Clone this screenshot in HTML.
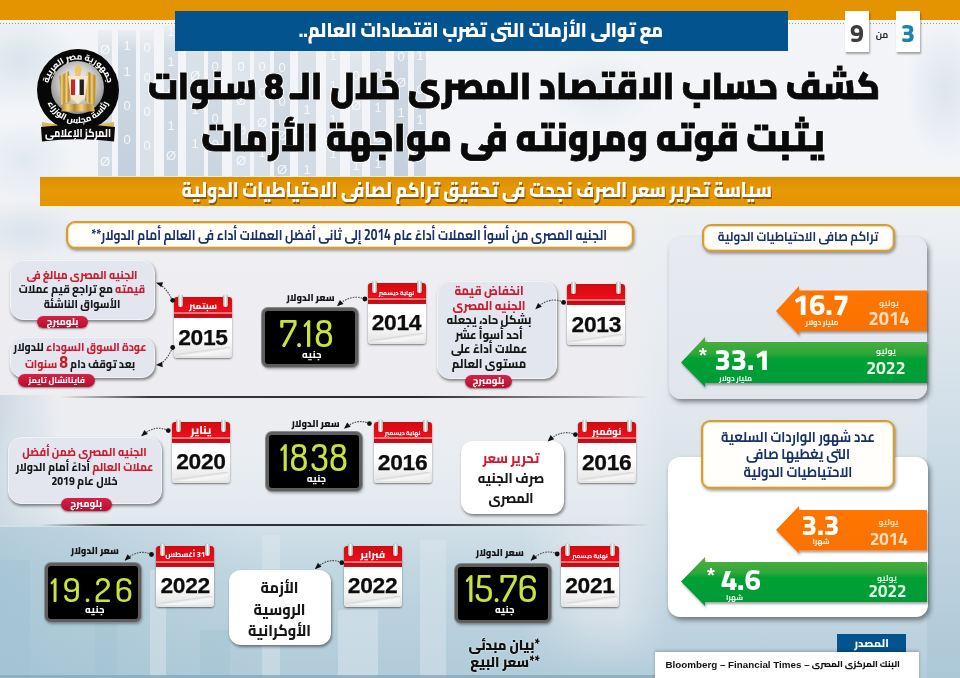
<!DOCTYPE html>
<html lang="ar">
<head>
<meta charset="utf-8">
<title>infographic</title>
<style>
*{box-sizing:border-box;margin:0;padding:0}
html,body{width:960px;height:678px;overflow:hidden}
body{position:relative;font-family:"Liberation Sans","Cairo","DejaVu Sans",sans-serif;background:#eceff3;color:#111}
.a{position:absolute}
.ar{font-family:"Cairo","DejaVu Sans",sans-serif;direction:rtl;white-space:nowrap}
.red{color:#cc1b2e}
.bub{background:#e3e6ef;border:1px solid #f1f3f8;border-radius:13px;box-shadow:1px 2px 3px rgba(0,0,0,.45)}
.wbub{background:#fff;border-radius:12px;box-shadow:1px 2px 3px rgba(0,0,0,.45)}
.pill{background:linear-gradient(180deg,#d42245,#b90f30);border-radius:7px;box-shadow:0 1px 2px rgba(0,0,0,.45)}
.hdr{background:#fffefa;border:2.5px solid #d69c35;border-radius:9px;box-shadow:0 0 0 1px #f3dfb0 inset,1px 2px 3px rgba(0,0,0,.35)}
.cal{width:58px;height:61px}
.cal .pg{left:0;top:0;width:58px;height:61px;background:linear-gradient(180deg,#fff 0,#fff 62%,#f1f1f1 80%,#e2e2e2 100%);border-radius:3px;box-shadow:0 1px 2px rgba(0,0,0,.5)}
.cal .curl{left:2px;top:50px;width:54px;height:9px;background:linear-gradient(172deg,rgba(255,255,255,0) 40%,#d9d9d9 45%,#f7f7f7 60%,#e8e8e8 100%)}
.cal .hd{left:0;top:0;width:58px;height:21px;background:linear-gradient(180deg,#b80f12 0,#d80a10 6%,#e20c14 40%,#ef0e1e 66%,#c8141c 71%,#f27575 74%,#f27575 79%,#b80e18 82%,#cd0f1f 100%);border-radius:3px 3px 0 0}
.cal .rg{top:-2px;width:5px;height:12px;background:linear-gradient(90deg,#9ea9a3,#f4f6f4 50%,#9ea9a3);border-radius:2px;box-shadow:0 0 1px rgba(0,0,0,.4)}
.led{width:96px;height:59px;background:#000;border:3px solid #5e5e5e;border-radius:6px;box-shadow:0 0 0 1px #8a8a8a,1px 2px 3px rgba(0,0,0,.35)}
.dg{font-family:"Dosis","Liberation Sans Narrow","Liberation Sans",sans-serif;font-weight:500;color:#c7e43b;white-space:nowrap;text-align:center}
.num{font-family:"Cairo","DejaVu Sans",sans-serif;font-weight:800;white-space:nowrap;text-align:center}
</style>
</head>
<body>
<div class="a" style="left:0;top:0;width:960px;height:678px;background:linear-gradient(180deg,#f3f5f8 0,#f2f4f7 170px,#eff0f3 215px,#eeeef2 300px,#ededf1 395px,#e9edf1 460px,#e2e9ef 515px,#d7e0e7 545px,#cfdbe4 620px,#c3d3df 678px)"></div>
<svg class="a" style="left:0;top:0" width="960" height="678" viewBox="0 0 960 678">
<defs>
<linearGradient id="rs" x1="0" y1="0" x2="0" y2="1"><stop offset="0" stop-color="#eef2f6" stop-opacity="0"/><stop offset=".12" stop-color="#e3e9ef"/><stop offset=".45" stop-color="#cbdbe6"/><stop offset="1" stop-color="#a9c5d4"/></linearGradient>
<radialGradient id="tr" cx="50%" cy="50%" r="50%"><stop offset="0" stop-color="#dde5ee"/><stop offset="1" stop-color="#dde5ee" stop-opacity="0"/></radialGradient>
<linearGradient id="colg" x1="0" y1="0" x2="0" y2="1"><stop offset="0" stop-color="#cfd9e3" stop-opacity=".3"/><stop offset=".15" stop-color="#cfd9e3"/><stop offset=".6" stop-color="#c9d4df"/><stop offset="1" stop-color="#c3cfdb"/></linearGradient>
<linearGradient id="botL" x1="0" y1="0" x2="0" y2="1"><stop offset="0" stop-color="#d2e0e9"/><stop offset=".3" stop-color="#c1d6e1"/><stop offset="1" stop-color="#b0cbd9"/></linearGradient>
<linearGradient id="botLx" x1="0" y1="0" x2="1" y2="0"><stop offset="0" stop-color="#9cbfd0" stop-opacity=".55"/><stop offset=".45" stop-color="#9cbfd0" stop-opacity="0"/></linearGradient>
<linearGradient id="botRx" x1="0" y1="0" x2="1" y2="0"><stop offset="0" stop-color="#dfe6ec" stop-opacity="0"/><stop offset=".45" stop-color="#dfe6ec" stop-opacity=".9"/><stop offset="1" stop-color="#e2e8ed" stop-opacity=".95"/></linearGradient>
<linearGradient id="botRy" x1="0" y1="0" x2="0" y2="1"><stop offset="0" stop-color="#fff" stop-opacity="1"/><stop offset=".6" stop-color="#fff" stop-opacity=".8"/><stop offset="1" stop-color="#fff" stop-opacity="0"/></linearGradient>
<mask id="mRy"><rect x="0" y="525" width="960" height="153" fill="url(#botRy)"/></mask>
<linearGradient id="botR" x1="0" y1="0" x2="0" y2="1"><stop offset="0" stop-color="#e4e8ec"/><stop offset=".55" stop-color="#dbe2e8"/><stop offset="1" stop-color="#bfd0dc"/></linearGradient>
<linearGradient id="fadeX" x1="0" y1="0" x2="1" y2="0"><stop offset="0" stop-color="#fff" stop-opacity="0"/><stop offset="1" stop-color="#fff" stop-opacity="1"/></linearGradient>
<linearGradient id="leftB" x1="0" y1="0" x2="1" y2="0"><stop offset="0" stop-color="#c7d5e0"/><stop offset="1" stop-color="#c7d5e0" stop-opacity="0"/></linearGradient>
</defs>
<g fill="url(#colg)"><rect x="98" y="30" width="14" height="148" opacity="0.7"/><rect x="118" y="30" width="18" height="148" opacity="1.0"/><rect x="140" y="30" width="14" height="148" opacity="0.55"/><rect x="164" y="26" width="14" height="152" opacity="0.85"/><rect x="186" y="30" width="18" height="148" opacity="0.7"/><rect x="208" y="30" width="14" height="148" opacity="0.85"/><rect x="232" y="26" width="18" height="152" opacity="0.55"/><rect x="254" y="26" width="16" height="152" opacity="0.55"/><rect x="274" y="30" width="16" height="148" opacity="0.85"/><rect x="298" y="30" width="18" height="148" opacity="0.7"/><rect x="326" y="40" width="14" height="138" opacity="0.55"/><rect x="350" y="40" width="12" height="138" opacity="0.55"/><rect x="370" y="30" width="16" height="148" opacity="0.85"/><rect x="394" y="40" width="14" height="138" opacity="1.0"/><rect x="414" y="40" width="12" height="138" opacity="0.85"/></g>
<g fill="#ffffff" opacity=".8" font-family="Liberation Sans,sans-serif" font-size="13" text-anchor="middle"><text x="105" y="54">Ø</text><text x="105" y="84">Ø</text><text x="105" y="110">Ø</text><text x="105" y="136">0</text><text x="105" y="166">Ø</text><text x="127" y="50">1</text><text x="127" y="76">1</text><text x="127" y="110">0</text><text x="127" y="144">0</text><text x="147" y="52">0</text><text x="147" y="82">0</text><text x="147" y="116">0</text><text x="147" y="150">0</text><text x="171" y="36">1</text><text x="171" y="66">1</text><text x="171" y="96">0</text><text x="171" y="130">1</text><text x="171" y="160">Ø</text><text x="195" y="50">0</text><text x="195" y="80">Ø</text><text x="195" y="114">1</text><text x="195" y="148">1</text><text x="215" y="41">0</text><text x="215" y="71">0</text><text x="215" y="97">1</text><text x="215" y="123">0</text><text x="215" y="149">0</text><text x="241" y="45">Ø</text><text x="241" y="71">0</text><text x="241" y="105">Ø</text><text x="241" y="135">Ø</text><text x="241" y="165">Ø</text><text x="262" y="37">Ø</text><text x="262" y="71">0</text><text x="262" y="97">0</text><text x="262" y="127">Ø</text><text x="262" y="157">1</text><text x="282" y="42">0</text><text x="282" y="72">0</text><text x="282" y="106">0</text><text x="282" y="140">Ø</text><text x="282" y="174">Ø</text><text x="307" y="46">1</text><text x="307" y="80">1</text><text x="307" y="114">1</text><text x="307" y="140">0</text><text x="307" y="174">1</text><text x="333" y="60">1</text><text x="333" y="90">1</text><text x="333" y="124">1</text><text x="333" y="158">1</text><text x="356" y="50">1</text><text x="356" y="80">0</text><text x="356" y="110">Ø</text><text x="356" y="144">1</text><text x="356" y="170">1</text><text x="378" y="52">0</text><text x="378" y="78">0</text><text x="378" y="112">1</text><text x="378" y="142">Ø</text><text x="378" y="168">1</text><text x="401" y="61">0</text><text x="401" y="87">Ø</text><text x="401" y="117">1</text><text x="401" y="151">1</text><text x="420" y="60">1</text><text x="420" y="94">0</text><text x="420" y="124">1</text><text x="420" y="150">0</text></g>
<rect x="0" y="395" width="60" height="132" fill="url(#leftB)" opacity=".8"/>
<rect x="0" y="525" width="668" height="153" fill="url(#botL)"/>
<rect x="0" y="527" width="560" height="151" fill="url(#botLx)"/>
<rect x="520" y="525" width="148" height="153" fill="url(#botRx)" mask="url(#mRy)"/>
<linearGradient id="rgy" x1="0" y1="0" x2="0" y2="1"><stop offset="0" stop-color="#edf0f3"/><stop offset=".4" stop-color="#e2e9ee"/><stop offset=".75" stop-color="#ccdbe5"/><stop offset="1" stop-color="#b4cddb"/></linearGradient>
<linearGradient id="rgx" x1="0" y1="0" x2="1" y2="0"><stop offset="0" stop-color="#fff" stop-opacity="0"/><stop offset=".12" stop-color="#fff" stop-opacity="1"/><stop offset="1" stop-color="#fff" stop-opacity="1"/></linearGradient>
<mask id="mrg"><rect x="625" y="215" width="335" height="463" fill="url(#rgx)"/></mask>
<rect x="625" y="215" width="335" height="463" fill="url(#rgy)" mask="url(#mrg)"/>
<rect x="927" y="210" width="33" height="468" fill="url(#rs)" opacity=".75"/>
<radialGradient id="tl" cx="50%" cy="50%" r="50%"><stop offset="0" stop-color="#d9e4ed"/><stop offset="1" stop-color="#d9e4ed" stop-opacity="0"/></radialGradient>
<ellipse cx="20" cy="60" rx="60" ry="50" fill="url(#tl)"/>
<ellipse cx="25" cy="160" rx="50" ry="40" fill="url(#tl)" opacity=".7"/>
<ellipse cx="25" cy="232" rx="60" ry="32" fill="url(#tl)"/>
<ellipse cx="20" cy="470" rx="40" ry="60" fill="url(#tl)" opacity=".8"/>
<ellipse cx="945" cy="90" rx="40" ry="70" fill="url(#tr)"/>
<ellipse cx="600" cy="90" rx="60" ry="40" fill="url(#tr)" opacity=".6"/>

<g opacity=".45">
<rect x="0" y="560" width="30" height="118" fill="#a3c3d3"/>
<rect x="95" y="600" width="22" height="78" fill="#a3c3d3"/>
<rect x="150" y="570" width="16" height="108" fill="#e2eaf0"/>
<rect x="262" y="535" width="18" height="143" fill="#dfe8ef"/>
<rect x="420" y="540" width="26" height="138" fill="#dfe8ef"/>
<rect x="338" y="610" width="40" height="68" fill="#e2eaf0"/>
<rect x="200" y="630" width="30" height="48" fill="#a3c3d3"/>
</g>
<rect x="0" y="675" width="660" height="3" fill="#86a9bd" opacity=".8"/>
</svg>
<div class="a" style="left:0;top:0;width:960px;height:20px;background:#e49400"></div>
<div class="a" style="left:0;top:20px;width:960px;height:2px;background:#fffaf0"></div>
<div class="a" style="left:0;top:23px;width:960px;height:1px;background:repeating-linear-gradient(90deg,#7d8791 0,#7d8791 1.5px,transparent 1.5px,transparent 3px);opacity:.8"></div>
<div class="a" style="left:175px;top:11px;width:613px;height:40px;background:#03548e"></div>
<div class="a ar " style="left:243.0px;top:19.5px;width:420px;text-align:right;font-size:17.4px;line-height:22.62px;font-weight:900;color:#fff;transform:scaleY(1.15);transform-origin:50% 17.7px;">مع توالى الأزمات التى تضرب اقتصادات العالم..</div>
<div class="a" style="left:845px;top:11px;width:24px;height:41px;background:#fff;box-shadow:1px 2px 2px rgba(0,0,0,.35)"></div>
<div class="a" style="left:896px;top:11px;width:24px;height:41px;background:#fff;box-shadow:1px 2px 2px rgba(0,0,0,.35)"></div>
<div class="a num" style="left:845px;top:17.6px;width:24px;font-size:25px;line-height:30px;color:#3d3d3d">9</div>
<div class="a num" style="left:896px;top:17.6px;width:24px;font-size:25px;line-height:30px;color:#1d83ae">3</div>
<div class="a ar " style="left:872.0px;top:28.9px;width:20px;text-align:center;font-size:9px;line-height:11.7px;font-weight:700;color:#222;">من</div>
<svg class="a" style="left:30px;top:44px" width="100" height="104" viewBox="30 44 100 104">
<defs>
<radialGradient id="disc" cx="50%" cy="42%" r="58%"><stop offset="0" stop-color="#f6f6f6"/><stop offset=".5" stop-color="#d6d6d6"/><stop offset="1" stop-color="#8e8e8e"/></radialGradient>
<linearGradient id="gold" x1="0" y1="0" x2="1" y2="0"><stop offset="0" stop-color="#a97b22"/><stop offset=".2" stop-color="#f2d27e"/><stop offset=".4" stop-color="#b8892e"/><stop offset=".6" stop-color="#f2d27e"/><stop offset=".8" stop-color="#b8892e"/><stop offset="1" stop-color="#e8c46a"/></linearGradient>
<path id="arcT" d="M47.5,90 A30.5,30.5 0 0 1 108.5,90"/>
<path id="arcB" d="M45,90 A33,33 0 0 0 111,90"/>
</defs>
<circle cx="78" cy="90" r="41" fill="#070707"/>
<circle cx="77.5" cy="87.5" r="26.5" fill="url(#disc)"/>
<path d="M59.5,76 L69,71 L71,101 L61,105 Z" fill="url(#gold)"/>
<path d="M96.5,76 L87,71 L85,101 L95,105 Z" fill="url(#gold)"/>
<path d="M74.5,68 L78,63.5 L81.5,68 L80.5,76 L75.5,76 Z" fill="#e9c76b"/>
<path d="M68,76 L88,76 L85,98 L78,104 L71,98 Z" fill="#f3e8cb"/>
<rect x="71" y="79.5" width="4.3" height="15.5" fill="#d4202a"/>
<rect x="75.3" y="79.5" width="4.3" height="15.5" fill="#fff"/>
<rect x="79.6" y="79.5" width="4.3" height="15.5" fill="#222"/>
<path d="M63,104 L93,104 L95,111.5 L61,111.5 Z" fill="url(#gold)"/>
<text font-family="Cairo,'DejaVu Sans',sans-serif" font-size="8.6" font-weight="800" fill="#fff" direction="rtl"><textPath href="#arcT" startOffset="50%" text-anchor="middle">جمهورية مصر العربية</textPath></text>
<text font-family="Cairo,'DejaVu Sans',sans-serif" font-size="8.6" font-weight="800" fill="#fff" direction="rtl"><textPath href="#arcB" startOffset="50%" text-anchor="middle">رئاسة مجلس الوزراء</textPath></text>
<path d="M42,122 L57,124.5 L57,130 L42,130 Z" fill="#dcb763"/>
<path d="M114,122 L99,124.5 L99,130 L114,130 Z" fill="#dcb763"/>
<path d="M41,127 Q78,122 115,127 L114,141.5 Q78,137 42,141.5 Z" fill="#0a0a0a"/>
<text x="78" y="137" text-anchor="middle" textLength="66" lengthAdjust="spacingAndGlyphs" font-family="Cairo,'DejaVu Sans',sans-serif" font-size="12" font-weight="800" fill="#fff" direction="rtl">المركز الإعلامى</text>
</svg>
<div class="a ar" style="left:64px;top:67.1px;width:900px;text-align:center;font-size:34px;line-height:40px;font-weight:900;color:#0a0a0a;-webkit-text-stroke:.7px #0a0a0a;text-shadow:0 0 2px #fff,1px 1px 0 #fff,-1px -1px 0 #fff,1px -1px 0 #fff,-1px 1px 0 #fff;transform:scaleY(1.1);transform-origin:50% 32.4px">كشف حساب الاقتصاد المصرى خلال الـ 8 سنوات</div>
<div class="a ar" style="left:63px;top:118.2px;width:900px;text-align:center;font-size:35px;line-height:40px;font-weight:900;color:#0a0a0a;-webkit-text-stroke:.7px #0a0a0a;text-shadow:0 0 2px #fff,1px 1px 0 #fff,-1px -1px 0 #fff,1px -1px 0 #fff,-1px 1px 0 #fff;transform:scaleY(1.1);transform-origin:50% 32.8px">يثبت قوته ومرونته فى مواجهة الأزمات</div>
<div class="a" style="left:40px;top:176px;width:920px;height:31px;background:#fbecc8"></div>
<div class="a" style="left:40px;top:177px;width:920px;height:29px;background:linear-gradient(180deg,#dc8d00 0,#e69a06 45%,#e49500 100%)"></div>
<div class="a ar" style="left:272px;top:179.3px;width:500px;text-align:right;font-size:17.0px;line-height:24px;font-weight:900;color:#fff;direction:rtl;text-shadow:1px 1.5px 0 rgba(70,35,0,.55);transform:scaleY(1.22);transform-origin:50% 18.2px;overflow:visible">سياسة تحرير سعر الصرف نجحت فى تحقيق تراكم لصافى الاحتياطيات الدولية</div>
<div class="a hdr" style="left:66px;top:221px;width:568px;height:28px"></div>
<div class="a ar " style="left:47.0px;top:227.8px;width:560px;text-align:right;font-size:12px;line-height:15.6px;font-weight:700;color:#16306b;transform:scaleY(1.22);transform-origin:50% 12.2px;">الجنيه المصرى من أسوأ العملات أداءً عام 2014 إلى ثانى أفضل العملات أداء فى العالم أمام الدولار**</div>
<div class="a" style="left:60px;top:396px;width:590px;height:2px;background:linear-gradient(90deg,rgba(60,60,60,0),#3a3a3a 15%,#2a2a2a 60%,rgba(80,80,80,.5) 90%,rgba(80,80,80,0))"></div>
<div class="a" style="left:40px;top:524px;width:610px;height:2px;background:linear-gradient(90deg,rgba(60,60,60,0),#3a3a3a 12%,#2a2a2a 60%,rgba(80,80,80,.6) 90%,rgba(80,80,80,0))"></div>
<div class="a bub" style="left:10px;top:259.6px;width:145px;height:60px"></div>
<div class="a bub" style="left:10px;top:336.6px;width:145px;height:41px"></div>
<div class="a ar " style="left:7.0px;top:267.8px;width:150px;text-align:center;font-size:10.4px;line-height:14.5px;font-weight:800;color:#161616;transform:scaleY(1.12);transform-origin:50% 11.1px;"><span class="red">الجنيه المصرى مبالغ فى</span></div>
<div class="a ar " style="left:7.0px;top:282.3px;width:150px;text-align:center;font-size:10.4px;line-height:14.5px;font-weight:800;color:#161616;transform:scaleY(1.12);transform-origin:50% 11.1px;"><span class="red">قيمته</span> مع تراجع قيم عملات</div>
<div class="a ar " style="left:7.0px;top:296.8px;width:150px;text-align:center;font-size:10.4px;line-height:14.5px;font-weight:800;color:#161616;transform:scaleY(1.12);transform-origin:50% 11.1px;">الأسواق الناشئة</div>
<div class="a ar " style="left:5.0px;top:338.7px;width:150px;text-align:center;font-size:10.4px;line-height:16px;font-weight:800;color:#161616;transform:scaleY(1.12);transform-origin:50% 11.8px;"><span class="red">عودة السوق السوداء</span> للدولار</div>
<div class="a ar " style="left:5.0px;top:354.7px;width:150px;text-align:center;font-size:10.4px;line-height:16px;font-weight:800;color:#161616;transform:scaleY(1.12);transform-origin:50% 11.8px;">بعد توقف دام <span class="red"><span style="font-size:15px">8</span> سنوات</span></div>
<div class="a pill" style="left:37.4px;top:316.3px;width:50.3px;height:12.0px"></div>
<div class="a ar " style="left:12.5px;top:315.8px;width:100px;text-align:center;font-size:9.5px;line-height:12.35px;font-weight:800;color:#fff;">بلومبرج</div>
<div class="a pill" style="left:18.2px;top:374px;width:77.0px;height:13.0px"></div>
<div class="a ar " style="left:6.7px;top:375.4px;width:100px;text-align:center;font-size:8.2px;line-height:10.66px;font-weight:800;color:#fff;">فاينانشال تايمز</div>
<div class="a cal" style="left:174px;top:297.4px"><div class="a pg"></div><div class="a curl"></div><div class="a hd"></div><i class="a rg" style="left:4px"></i><i class="a rg" style="left:49px"></i></div>
<div class="a ar " style="left:175.0px;top:300.8px;width:56px;text-align:center;font-size:8.8px;line-height:11.44px;font-weight:800;color:#fff;">سبتمبر</div>
<div class="a" style="left:174px;top:323.5px;width:58px;text-align:center;font-family:'Liberation Sans',sans-serif;font-weight:700;font-size:22.8px;line-height:26px;color:#0d0d0d;-webkit-text-stroke:.25px #0d0d0d;letter-spacing:-.3px">2015</div>
<div class="a ar " style="left:275.5px;top:291.8px;width:70px;text-align:center;font-size:9.2px;line-height:11.96px;font-weight:900;color:#141414;transform:scaleY(1.12);transform-origin:50% 9.3px;">سعر الدولار</div>
<div class="a led" style="left:261.7px;top:308.2px;width:96px;height:59px"></div>
<div class="a dg" style="left:247.1px;top:309.7px;width:120px;font-size:37.9px;line-height:45.4px;letter-spacing:1.4px">7.18</div>
<div class="a ar " style="left:291.8px;top:349.2px;width:40px;text-align:center;font-size:9.5px;line-height:12.35px;font-weight:800;color:#fff;">جنيه</div>
<div class="a cal" style="left:367.5px;top:282.7px"><div class="a pg"></div><div class="a curl"></div><div class="a hd"></div><i class="a rg" style="left:4px"></i><i class="a rg" style="left:49px"></i></div>
<div class="a ar " style="left:368.5px;top:288.9px;width:56px;text-align:center;font-size:6px;line-height:7.8px;font-weight:800;color:#fff;">نهاية ديسمبر</div>
<div class="a" style="left:367.5px;top:308.8px;width:58px;text-align:center;font-family:'Liberation Sans',sans-serif;font-weight:700;font-size:22.8px;line-height:26px;color:#0d0d0d;-webkit-text-stroke:.25px #0d0d0d;letter-spacing:-.3px">2014</div>
<div class="a bub" style="left:437px;top:281.2px;width:120.4px;height:98.2px"></div>
<div class="a ar " style="left:429.0px;top:284.1px;width:120px;text-align:center;font-size:11.2px;line-height:14.5px;font-weight:800;color:#161616;transform:scaleY(1.12);transform-origin:50% 11.3px;"><span class="red">انخفاض قيمة</span></div>
<div class="a ar " style="left:429.0px;top:298.6px;width:120px;text-align:center;font-size:11.2px;line-height:14.5px;font-weight:800;color:#161616;transform:scaleY(1.12);transform-origin:50% 11.3px;"><span class="red">الجنيه المصرى</span></div>
<div class="a ar " style="left:429.0px;top:313.1px;width:120px;text-align:center;font-size:11.2px;line-height:14.5px;font-weight:800;color:#161616;transform:scaleY(1.12);transform-origin:50% 11.3px;">بشكل حاد، يجعله</div>
<div class="a ar " style="left:429.0px;top:327.6px;width:120px;text-align:center;font-size:11.2px;line-height:14.5px;font-weight:800;color:#161616;transform:scaleY(1.12);transform-origin:50% 11.3px;">أحد أسوأ عشر</div>
<div class="a ar " style="left:429.0px;top:342.1px;width:120px;text-align:center;font-size:11.2px;line-height:14.5px;font-weight:800;color:#161616;transform:scaleY(1.12);transform-origin:50% 11.3px;">عملات أداءً على</div>
<div class="a ar " style="left:429.0px;top:356.6px;width:120px;text-align:center;font-size:11.2px;line-height:14.5px;font-weight:800;color:#161616;transform:scaleY(1.12);transform-origin:50% 11.3px;">مستوى العالم</div>
<div class="a pill" style="left:464.5px;top:375px;width:47.8px;height:13.3px"></div>
<div class="a ar " style="left:438.4px;top:375.2px;width:100px;text-align:center;font-size:9.5px;line-height:12.35px;font-weight:800;color:#fff;">بلومبرج</div>
<div class="a cal" style="left:567.3px;top:284.4px"><div class="a pg"></div><div class="a curl"></div><div class="a hd"></div><i class="a rg" style="left:4px"></i><i class="a rg" style="left:49px"></i></div>
<div class="a" style="left:567.3px;top:310.5px;width:58px;text-align:center;font-family:'Liberation Sans',sans-serif;font-weight:700;font-size:22.8px;line-height:26px;color:#0d0d0d;-webkit-text-stroke:.25px #0d0d0d;letter-spacing:-.3px">2013</div>
<div class="a bub" style="left:8px;top:437px;width:154px;height:67px"></div>
<div class="a ar " style="left:4.5px;top:444.8px;width:160px;text-align:center;font-size:10.5px;line-height:14.8px;font-weight:800;color:#161616;transform:scaleY(1.12);transform-origin:50% 11.2px;"><span class="red">الجنيه المصرى ضمن أفضل</span></div>
<div class="a ar " style="left:4.5px;top:459.6px;width:160px;text-align:center;font-size:10.5px;line-height:14.8px;font-weight:800;color:#161616;transform:scaleY(1.12);transform-origin:50% 11.2px;"><span class="red">عملات العالم</span> أداءً أمام الدولار</div>
<div class="a ar " style="left:4.5px;top:474.4px;width:160px;text-align:center;font-size:10.5px;line-height:14.8px;font-weight:800;color:#161616;transform:scaleY(1.12);transform-origin:50% 11.2px;">خلال عام 2019</div>
<div class="a pill" style="left:60.8px;top:497.5px;width:50.9px;height:13.3px"></div>
<div class="a ar " style="left:36.2px;top:497.7px;width:100px;text-align:center;font-size:9.5px;line-height:12.35px;font-weight:800;color:#fff;">بلومبرج</div>
<div class="a cal" style="left:172px;top:421.8px"><div class="a pg"></div><div class="a curl"></div><div class="a hd"></div><i class="a rg" style="left:4px"></i><i class="a rg" style="left:49px"></i></div>
<div class="a ar " style="left:173.0px;top:422.9px;width:56px;text-align:center;font-size:11px;line-height:14.3px;font-weight:800;color:#fff;">يناير</div>
<div class="a" style="left:172px;top:447.9px;width:58px;text-align:center;font-family:'Liberation Sans',sans-serif;font-weight:700;font-size:22.8px;line-height:26px;color:#0d0d0d;-webkit-text-stroke:.25px #0d0d0d;letter-spacing:-.3px">2020</div>
<div class="a ar " style="left:280.5px;top:417.7px;width:70px;text-align:center;font-size:9.2px;line-height:11.96px;font-weight:900;color:#141414;transform:scaleY(1.12);transform-origin:50% 9.3px;">سعر الدولار</div>
<div class="a led" style="left:266px;top:432px;width:96px;height:59px"></div>
<div class="a dg" style="left:254.1px;top:434.8px;width:120px;font-size:36.9px;line-height:44.2px;letter-spacing:0.3px">18<span style="font-size:8px">.</span>38</div>
<div class="a ar " style="left:296.5px;top:473.4px;width:40px;text-align:center;font-size:9.5px;line-height:12.35px;font-weight:800;color:#fff;">جنيه</div>
<div class="a cal" style="left:373.6px;top:422.4px"><div class="a pg"></div><div class="a curl"></div><div class="a hd"></div><i class="a rg" style="left:4px"></i><i class="a rg" style="left:49px"></i></div>
<div class="a ar " style="left:374.6px;top:428.6px;width:56px;text-align:center;font-size:6px;line-height:7.8px;font-weight:800;color:#fff;">نهاية ديسمبر</div>
<div class="a" style="left:373.6px;top:448.5px;width:58px;text-align:center;font-family:'Liberation Sans',sans-serif;font-weight:700;font-size:22.8px;line-height:26px;color:#0d0d0d;-webkit-text-stroke:.25px #0d0d0d;letter-spacing:-.3px">2016</div>
<div class="a wbub" style="left:461px;top:441px;width:103px;height:73px"></div>
<div class="a ar " style="left:456.0px;top:449.2px;width:110px;text-align:center;font-size:12.7px;line-height:19.8px;font-weight:800;color:#161616;transform:scaleY(1.12);transform-origin:50% 14.5px;"><span class="red">تحرير سعر</span></div>
<div class="a ar " style="left:456.0px;top:469.0px;width:110px;text-align:center;font-size:12.7px;line-height:19.8px;font-weight:800;color:#161616;transform:scaleY(1.12);transform-origin:50% 14.5px;">صرف الجنيه</div>
<div class="a ar " style="left:456.0px;top:488.8px;width:110px;text-align:center;font-size:12.7px;line-height:19.8px;font-weight:800;color:#161616;transform:scaleY(1.12);transform-origin:50% 14.5px;">المصرى</div>
<div class="a cal" style="left:577.7px;top:422.4px"><div class="a pg"></div><div class="a curl"></div><div class="a hd"></div><i class="a rg" style="left:4px"></i><i class="a rg" style="left:49px"></i></div>
<div class="a ar " style="left:578.7px;top:424.9px;width:56px;text-align:center;font-size:9.6px;line-height:12.48px;font-weight:800;color:#fff;">نوفمبر</div>
<div class="a" style="left:577.7px;top:448.5px;width:58px;text-align:center;font-family:'Liberation Sans',sans-serif;font-weight:700;font-size:22.8px;line-height:26px;color:#0d0d0d;-webkit-text-stroke:.25px #0d0d0d;letter-spacing:-.3px">2016</div>
<div class="a ar " style="left:59.8px;top:544.8px;width:70px;text-align:center;font-size:9.2px;line-height:11.96px;font-weight:900;color:#141414;transform:scaleY(1.12);transform-origin:50% 9.3px;">سعر الدولار</div>
<div class="a led" style="left:45px;top:563.2px;width:96px;height:59px"></div>
<div class="a dg" style="left:33.5px;top:568.4px;width:120px;font-size:34.1px;line-height:41.0px;letter-spacing:4px">19.26</div>
<div class="a ar " style="left:74.8px;top:603.5px;width:40px;text-align:center;font-size:9.5px;line-height:12.35px;font-weight:800;color:#fff;">جنيه</div>
<div class="a cal" style="left:156.2px;top:545.6px"><div class="a pg"></div><div class="a curl"></div><div class="a hd"></div><i class="a rg" style="left:4px"></i><i class="a rg" style="left:49px"></i></div>
<div class="a ar " style="left:157.2px;top:550.4px;width:56px;text-align:center;font-size:7.4px;line-height:9.62px;font-weight:800;color:#fff;">31 أغسطس</div>
<div class="a" style="left:156.2px;top:571.7px;width:58px;text-align:center;font-family:'Liberation Sans',sans-serif;font-weight:700;font-size:22.8px;line-height:26px;color:#0d0d0d;-webkit-text-stroke:.25px #0d0d0d;letter-spacing:-.3px">2022</div>
<div class="a wbub" style="left:228.6px;top:570px;width:102.3px;height:75px"></div>
<div class="a ar " style="left:224.5px;top:577.4px;width:110px;text-align:center;font-size:14.2px;line-height:21.25px;font-weight:800;color:#161616;transform:scaleY(1.12);transform-origin:50% 15.8px;">الأزمة</div>
<div class="a ar " style="left:224.5px;top:598.6px;width:110px;text-align:center;font-size:14.2px;line-height:21.25px;font-weight:800;color:#161616;transform:scaleY(1.12);transform-origin:50% 15.8px;">الروسية</div>
<div class="a ar " style="left:224.5px;top:619.9px;width:110px;text-align:center;font-size:14.2px;line-height:21.25px;font-weight:800;color:#161616;transform:scaleY(1.12);transform-origin:50% 15.8px;">الأوكرانية</div>
<div class="a cal" style="left:343.6px;top:545.6px"><div class="a pg"></div><div class="a curl"></div><div class="a hd"></div><i class="a rg" style="left:4px"></i><i class="a rg" style="left:49px"></i></div>
<div class="a ar " style="left:344.6px;top:547.7px;width:56px;text-align:center;font-size:10px;line-height:13.0px;font-weight:800;color:#fff;">فبراير</div>
<div class="a" style="left:343.6px;top:571.7px;width:58px;text-align:center;font-family:'Liberation Sans',sans-serif;font-weight:700;font-size:22.8px;line-height:26px;color:#0d0d0d;-webkit-text-stroke:.25px #0d0d0d;letter-spacing:-.3px">2022</div>
<div class="a ar " style="left:464.8px;top:546.8px;width:70px;text-align:center;font-size:9.2px;line-height:11.96px;font-weight:900;color:#141414;transform:scaleY(1.12);transform-origin:50% 9.3px;">سعر الدولار</div>
<div class="a led" style="left:455px;top:563.9px;width:96px;height:59px"></div>
<div class="a dg" style="left:441.4px;top:564.7px;width:120px;font-size:37.9px;line-height:45.4px;letter-spacing:0px">15.76</div>
<div class="a ar " style="left:484.8px;top:604.2px;width:40px;text-align:center;font-size:9.5px;line-height:12.35px;font-weight:800;color:#fff;">جنيه</div>
<div class="a cal" style="left:561px;top:546.2px"><div class="a pg"></div><div class="a curl"></div><div class="a hd"></div><i class="a rg" style="left:4px"></i><i class="a rg" style="left:49px"></i></div>
<div class="a ar " style="left:562.0px;top:552.4px;width:56px;text-align:center;font-size:6px;line-height:7.8px;font-weight:800;color:#fff;">نهاية ديسمبر</div>
<div class="a" style="left:561px;top:572.3px;width:58px;text-align:center;font-family:'Liberation Sans',sans-serif;font-weight:700;font-size:22.8px;line-height:26px;color:#0d0d0d;-webkit-text-stroke:.25px #0d0d0d;letter-spacing:-.3px">2021</div>
<div class="a ar " style="left:440.0px;top:636.6px;width:100px;text-align:right;font-size:13px;line-height:16.9px;font-weight:900;color:#111;transform:scaleY(1.12);transform-origin:50% 13.2px;text-shadow:0 0 2px #fff">*بيان مبدئى</div>
<div class="a ar " style="left:440.0px;top:654.1px;width:100px;text-align:right;font-size:13px;line-height:16.9px;font-weight:900;color:#111;transform:scaleY(1.12);transform-origin:50% 13.2px;text-shadow:0 0 2px #fff">**سعر البيع</div>
<svg class="a" style="left:0;top:0" width="960" height="678" viewBox="0 0 960 678"><path d="M172.7,300.3 Q164.85,285.65 157,283" fill="none" stroke="#4a4a4a" stroke-width="1.1" stroke-dasharray="1.6 1.1"/><circle cx="172.7" cy="300.3" r="2.4" fill="#111"/><polygon points="156.1,282.7 163.1,282.2 161.3,287.3" fill="#111"/><path d="M172.7,347.5 Q164.85,364.25 157,365" fill="none" stroke="#4a4a4a" stroke-width="1.1" stroke-dasharray="1.6 1.1"/><circle cx="172.7" cy="347.5" r="2.4" fill="#111"/><polygon points="156.0,365.1 162.2,361.8 162.7,367.2" fill="#111"/><path d="M364.9,299 Q351.25,293.3 337.6,305.6" fill="none" stroke="#4a4a4a" stroke-width="1.1" stroke-dasharray="1.6 1.1"/><circle cx="364.9" cy="299" r="2.4" fill="#111"/><polygon points="336.9,306.3 339.9,299.9 343.5,303.9" fill="#111"/><path d="M563.6,302.4 Q549.8,295.5 536,308.6" fill="none" stroke="#4a4a4a" stroke-width="1.1" stroke-dasharray="1.6 1.1"/><circle cx="563.6" cy="302.4" r="2.4" fill="#111"/><polygon points="535.3,309.3 538.1,302.9 541.8,306.8" fill="#111"/><path d="M168.3,430.6 Q155.15,424.05 142,435.5" fill="none" stroke="#4a4a4a" stroke-width="1.1" stroke-dasharray="1.6 1.1"/><circle cx="168.3" cy="430.6" r="2.4" fill="#111"/><polygon points="141.2,436.2 144.4,429.9 147.9,433.9" fill="#111"/><path d="M369.4,423.6 Q357.04999999999995,417.9 344.7,428.2" fill="none" stroke="#4a4a4a" stroke-width="1.1" stroke-dasharray="1.6 1.1"/><circle cx="369.4" cy="423.6" r="2.4" fill="#111"/><polygon points="343.9,428.8 347.2,422.6 350.7,426.8" fill="#111"/><path d="M575.4,434.6 Q561.8499999999999,428.70000000000005 548.3,440.8" fill="none" stroke="#4a4a4a" stroke-width="1.1" stroke-dasharray="1.6 1.1"/><circle cx="575.4" cy="434.6" r="2.4" fill="#111"/><polygon points="547.6,441.5 550.6,435.1 554.2,439.2" fill="#111"/><path d="M151.5,554.5 Q138.4,548.25 125.3,560" fill="none" stroke="#4a4a4a" stroke-width="1.1" stroke-dasharray="1.6 1.1"/><circle cx="151.5" cy="554.5" r="2.4" fill="#111"/><polygon points="124.6,560.7 127.6,554.3 131.2,558.3" fill="#111"/><path d="M341.8,562.7 Q328.70000000000005,556.6 315.6,568.5" fill="none" stroke="#4a4a4a" stroke-width="1.1" stroke-dasharray="1.6 1.1"/><circle cx="341.8" cy="562.7" r="2.4" fill="#111"/><polygon points="314.9,569.2 317.9,562.8 321.5,566.8" fill="#111"/><path d="M557.2,554 Q544.25,548.0 531.3,560" fill="none" stroke="#4a4a4a" stroke-width="1.1" stroke-dasharray="1.6 1.1"/><circle cx="557.2" cy="554" r="2.4" fill="#111"/><polygon points="530.6,560.7 533.5,554.3 537.2,558.2" fill="#111"/></svg>
<div class="a" style="left:669px;top:237px;width:258px;height:162px;border-radius:12px;background:linear-gradient(180deg,#e7eaf1,#e1e5ed);box-shadow:2px 3px 5px rgba(0,0,0,.45)"></div>
<div class="a hdr" style="left:702px;top:224px;width:193px;height:28px"></div>
<div class="a ar " style="left:703.0px;top:229.5px;width:190px;text-align:center;font-size:11.6px;line-height:15.08px;font-weight:700;color:#16306b;transform:scaleY(1.15);transform-origin:50% 11.8px;">تراكم صافى الاحتياطيات الدولية</div>
<div class="a" style="left:668px;top:457px;width:260px;height:160px;border-radius:12px;background:#fff;box-shadow:2px 3px 5px rgba(0,0,0,.45)"></div>
<div class="a hdr" style="left:701px;top:420px;width:194px;height:69px"></div>
<div class="a ar " style="left:703.0px;top:428.6px;width:190px;text-align:center;font-size:12.85px;line-height:17.85px;font-weight:700;color:#16306b;transform:scaleY(1.15);transform-origin:50% 13.6px;">عدد شهور الواردات السلعية</div>
<div class="a ar " style="left:703.0px;top:446.4px;width:190px;text-align:center;font-size:12.85px;line-height:17.85px;font-weight:700;color:#16306b;transform:scaleY(1.15);transform-origin:50% 13.6px;">التى يغطيها صافى</div>
<div class="a ar " style="left:703.0px;top:464.3px;width:190px;text-align:center;font-size:12.85px;line-height:17.85px;font-weight:700;color:#16306b;transform:scaleY(1.15);transform-origin:50% 13.6px;">الاحتياطيات الدولية</div>
<svg class="a" style="left:0;top:0" width="960" height="678" viewBox="0 0 960 678">
<defs>
<linearGradient id="og" x1="0" y1="0" x2="0" y2="1"><stop offset="0" stop-color="#f5780a"/><stop offset=".1" stop-color="#fe7602"/><stop offset="1" stop-color="#fb7100"/></linearGradient>
<linearGradient id="gg" x1="0" y1="0" x2="0" y2="1"><stop offset="0" stop-color="#62a92c"/><stop offset=".12" stop-color="#45ac3c"/><stop offset=".33" stop-color="#2ea63a"/><stop offset=".42" stop-color="#05a133"/><stop offset="1" stop-color="#069a3a"/></linearGradient>
<filter id="sh" x="-10%" y="-20%" width="120%" height="150%"><feDropShadow dx="1" dy="2" stdDeviation="1.2" flood-color="#000" flood-opacity=".35"/></filter>
</defs>
<polygon filter="url(#sh)" fill="url(#og)" points="776,311 799,286 799,290.5 927,290.5 927,331 799,331 799,335"/>
<polygon filter="url(#sh)" fill="url(#gg)" points="681,362.5 705,337 705,342 927,342 927,383 705,383 705,387"/>
<polygon filter="url(#sh)" fill="url(#og)" points="776,530 799,506 799,510 927,510 927,550.5 799,550.5 799,553.5"/>
<polygon filter="url(#sh)" fill="url(#gg)" points="681,581.5 705,557 705,562 927,562 927,602 705,602 705,606"/>
</svg>
<div class="a num" style="left:770.9px;top:287.3px;width:100px;font-size:29.5px;line-height:35.4px;color:#fff">16.7</div>
<div class="a ar " style="left:802.0px;top:317.9px;width:40px;text-align:center;font-size:7.5px;line-height:9.75px;font-weight:700;color:#fff;">مليار دولار</div>
<div class="a ar " style="left:869.0px;top:297.9px;width:40px;text-align:center;font-size:8.5px;line-height:11.05px;font-weight:700;color:#fde0c2;">يوليو</div>
<div class="a num" style="left:849.0px;top:308.2px;width:80px;font-size:18.4px;line-height:22.1px;font-weight:700;color:#fde0c2">2014</div>
<div class="a" style="left:699px;top:345px;font-family:'Liberation Sans',sans-serif;font-size:20px;font-weight:700;color:#fff;line-height:20px">*</div>
<div class="a num" style="left:692.5px;top:342.4px;width:100px;font-size:29.2px;line-height:35.0px;color:#fff">33.1</div>
<div class="a ar " style="left:715.5px;top:373.9px;width:40px;text-align:center;font-size:7.5px;line-height:9.75px;font-weight:700;color:#fff;">مليار دولار</div>
<div class="a ar " style="left:866.0px;top:346.4px;width:40px;text-align:center;font-size:8.5px;line-height:11.05px;font-weight:700;color:#e4f5e4;">يوليو</div>
<div class="a num" style="left:845.8px;top:356.9px;width:80px;font-size:17.7px;line-height:21.2px;font-weight:700;color:#e4f5e4">2022</div>
<div class="a num" style="left:770.4px;top:508.8px;width:100px;font-size:27.8px;line-height:33.3px;color:#fff">3.3</div>
<div class="a ar " style="left:806.0px;top:537.4px;width:30px;text-align:center;font-size:7.5px;line-height:9.75px;font-weight:700;color:#fff;">شهرا</div>
<div class="a ar " style="left:868.5px;top:517.4px;width:40px;text-align:center;font-size:8.5px;line-height:11.05px;font-weight:700;color:#fde0c2;">يوليو</div>
<div class="a num" style="left:848.8px;top:528.6px;width:80px;font-size:17.0px;line-height:20.4px;font-weight:700;color:#fde0c2">2014</div>
<div class="a" style="left:707px;top:565px;font-family:'Liberation Sans',sans-serif;font-size:20px;font-weight:700;color:#fff;line-height:20px">*</div>
<div class="a num" style="left:690.8px;top:561.8px;width:100px;font-size:29.6px;line-height:35.5px;color:#fff">4.6</div>
<div class="a ar " style="left:719.5px;top:593.4px;width:30px;text-align:center;font-size:7.5px;line-height:9.75px;font-weight:700;color:#fff;">شهرا</div>
<div class="a ar " style="left:867.0px;top:573.4px;width:40px;text-align:center;font-size:8.5px;line-height:11.05px;font-weight:700;color:#e4f5e4;">يوليو</div>
<div class="a num" style="left:847.5px;top:580.6px;width:80px;font-size:17.0px;line-height:20.4px;font-weight:700;color:#e4f5e4">2022</div>
<div class="a" style="left:837px;top:634px;width:69px;height:18px;background:#03548e"></div>
<div class="a ar " style="left:837.0px;top:635.8px;width:69px;text-align:center;font-size:11px;line-height:14.3px;font-weight:800;color:#fff;">المصدر</div>
<div class="a" style="left:655px;top:652px;width:264px;height:30px;background:#fff;box-shadow:0 -1px 3px rgba(0,0,0,.25)"></div>
<div class="a ar " style="left:800.0px;top:659.4px;width:100px;text-align:right;font-size:8.8px;line-height:11.44px;font-weight:800;color:#111;">البنك المركزى المصرى</div>
<div class="a" style="left:665.5px;top:658.9px;width:150px;font-family:'Liberation Sans',sans-serif;font-weight:700;font-size:9.8px;line-height:12px;color:#111;white-space:nowrap">Bloomberg – Financial Times –</div>
</body>
</html>
